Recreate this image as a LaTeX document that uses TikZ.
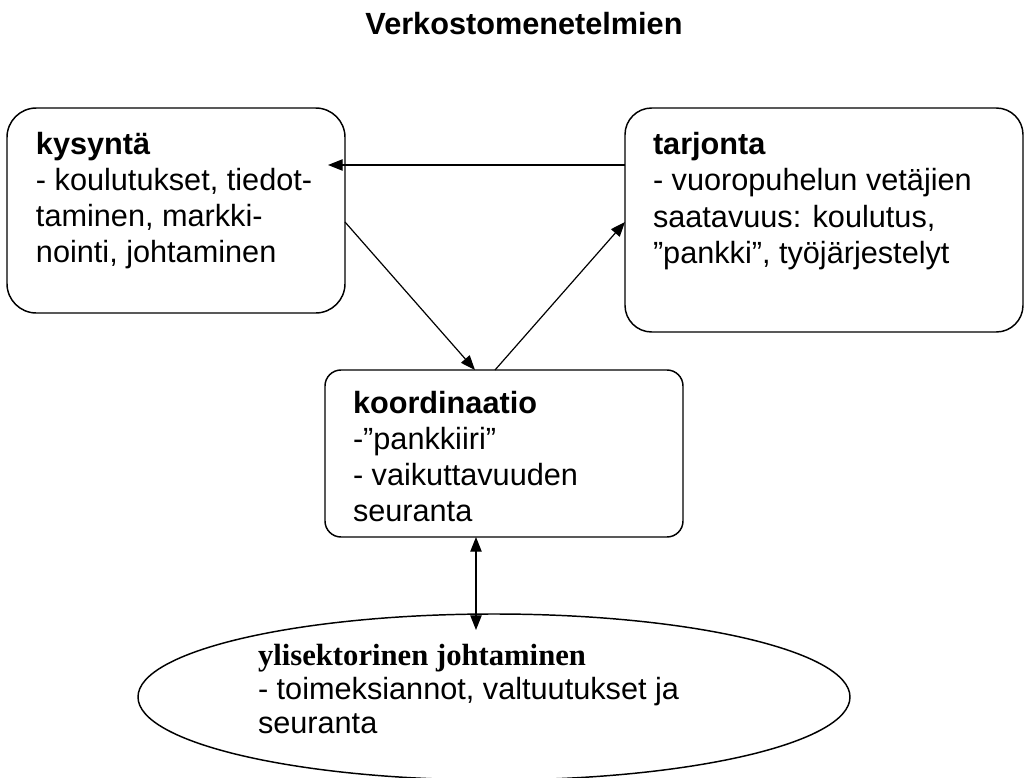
\documentclass[tikz,border=0pt]{standalone}
\usepackage{fontspec}
\setmainfont{Liberation Sans}
\newfontfamily\timesfont{Liberation Serif}
\usetikzlibrary{arrows.meta,calc,shapes.geometric}
\tikzset{
  boxnode/.style={draw, line width=1.1pt, inner sep=0pt, outer sep=0pt},
  txt/.style={anchor=base west, inner sep=0pt, outer sep=0pt, font=\fontsize{23}{27}\selectfont},
  txtb/.style={txt, font=\fontsize{23}{27}\selectfont\bfseries},
  conn/.style={line width=0.9pt, -{Triangle[length=11pt,width=8.5pt]}},
  dconn/.style={line width=0.9pt, {Triangle[length=11pt,width=8.5pt]}-{Triangle[length=11pt,width=8.5pt]}}
}
\begin{document}
\begin{tikzpicture}[x=0.75pt,y=-0.75pt]
\useasboundingbox (0,0) rectangle (1026,778);
% title
\node[anchor=base, inner sep=0pt, font=\fontsize{23}{27}\selectfont\bfseries] (title) at (524,35) {Verkostomenetelmien};
% boxes
\node[boxnode, rounded corners=22pt, minimum width=253.5pt, minimum height=153.75pt] (kys) at (176,210.5) {};
\node[boxnode, rounded corners=20pt, minimum width=298.5pt, minimum height=168pt] (tar) at (824,220) {};
\node[boxnode, rounded corners=12pt, minimum width=268.5pt, minimum height=125.25pt] (koord) at (504,453.5) {};
\node[boxnode, ellipse, minimum width=534pt, minimum height=124.5pt] (ell) at (494,697) {};
% kysyntä text
\node[txtb] (k1) at (36,154) {kysyntä};
\node[txt] (k2) at (36,190) {- koulutukset, tiedot-};
\node[txt] (k3) at (36,226) {taminen, markki-};
\node[txt] (k4) at (36,262) {nointi, johtaminen};
% tarjonta text
\node[txtb] (t1) at (653,154) {tarjonta};
\node[txt] (t2) at (653,190) {- vuoropuhelun vetäjien};
\node[txt] (t3) at (653,227) {saatavuus: koulutus,};
\node[txt] (t4) at (653,263) {”pankki”, työjärjestelyt};
% koordinaatio text
\node[txtb] (c1) at (353,413) {koordinaatio};
\node[txt] (c2) at (353,449) {-”pankkiiri”};
\node[txt] (c3) at (353,485) {- vaikuttavuuden};
\node[txt] (c4) at (353,521) {seuranta};
% ellipse text
\node[txt, font=\fontsize{23}{27}\selectfont\timesfont\bfseries] (e1) at (258,665) {ylisektorinen johtaminen};
\node[txt] (e2) at (258,699) {- toimeksiannot, valtuutukset ja};
\node[txt] (e3) at (258,733) {seuranta};
% connectors
\draw[conn] ($(tar.north west)+(0,57)$) -- ($(kys.north east)+(-17,57)$);
\draw[conn] ($(kys.north east)+(0,114)$) -- ($(koord.north west)+(150,0)$);
\draw[conn] ($(koord.north west)+(170,0)$) -- ($(tar.north west)+(0,114)$);
\draw[dconn] ($(koord.south west)+(151,0)$) -- ($(ell.north)+(-18,16)$);
\end{tikzpicture}
\end{document}
